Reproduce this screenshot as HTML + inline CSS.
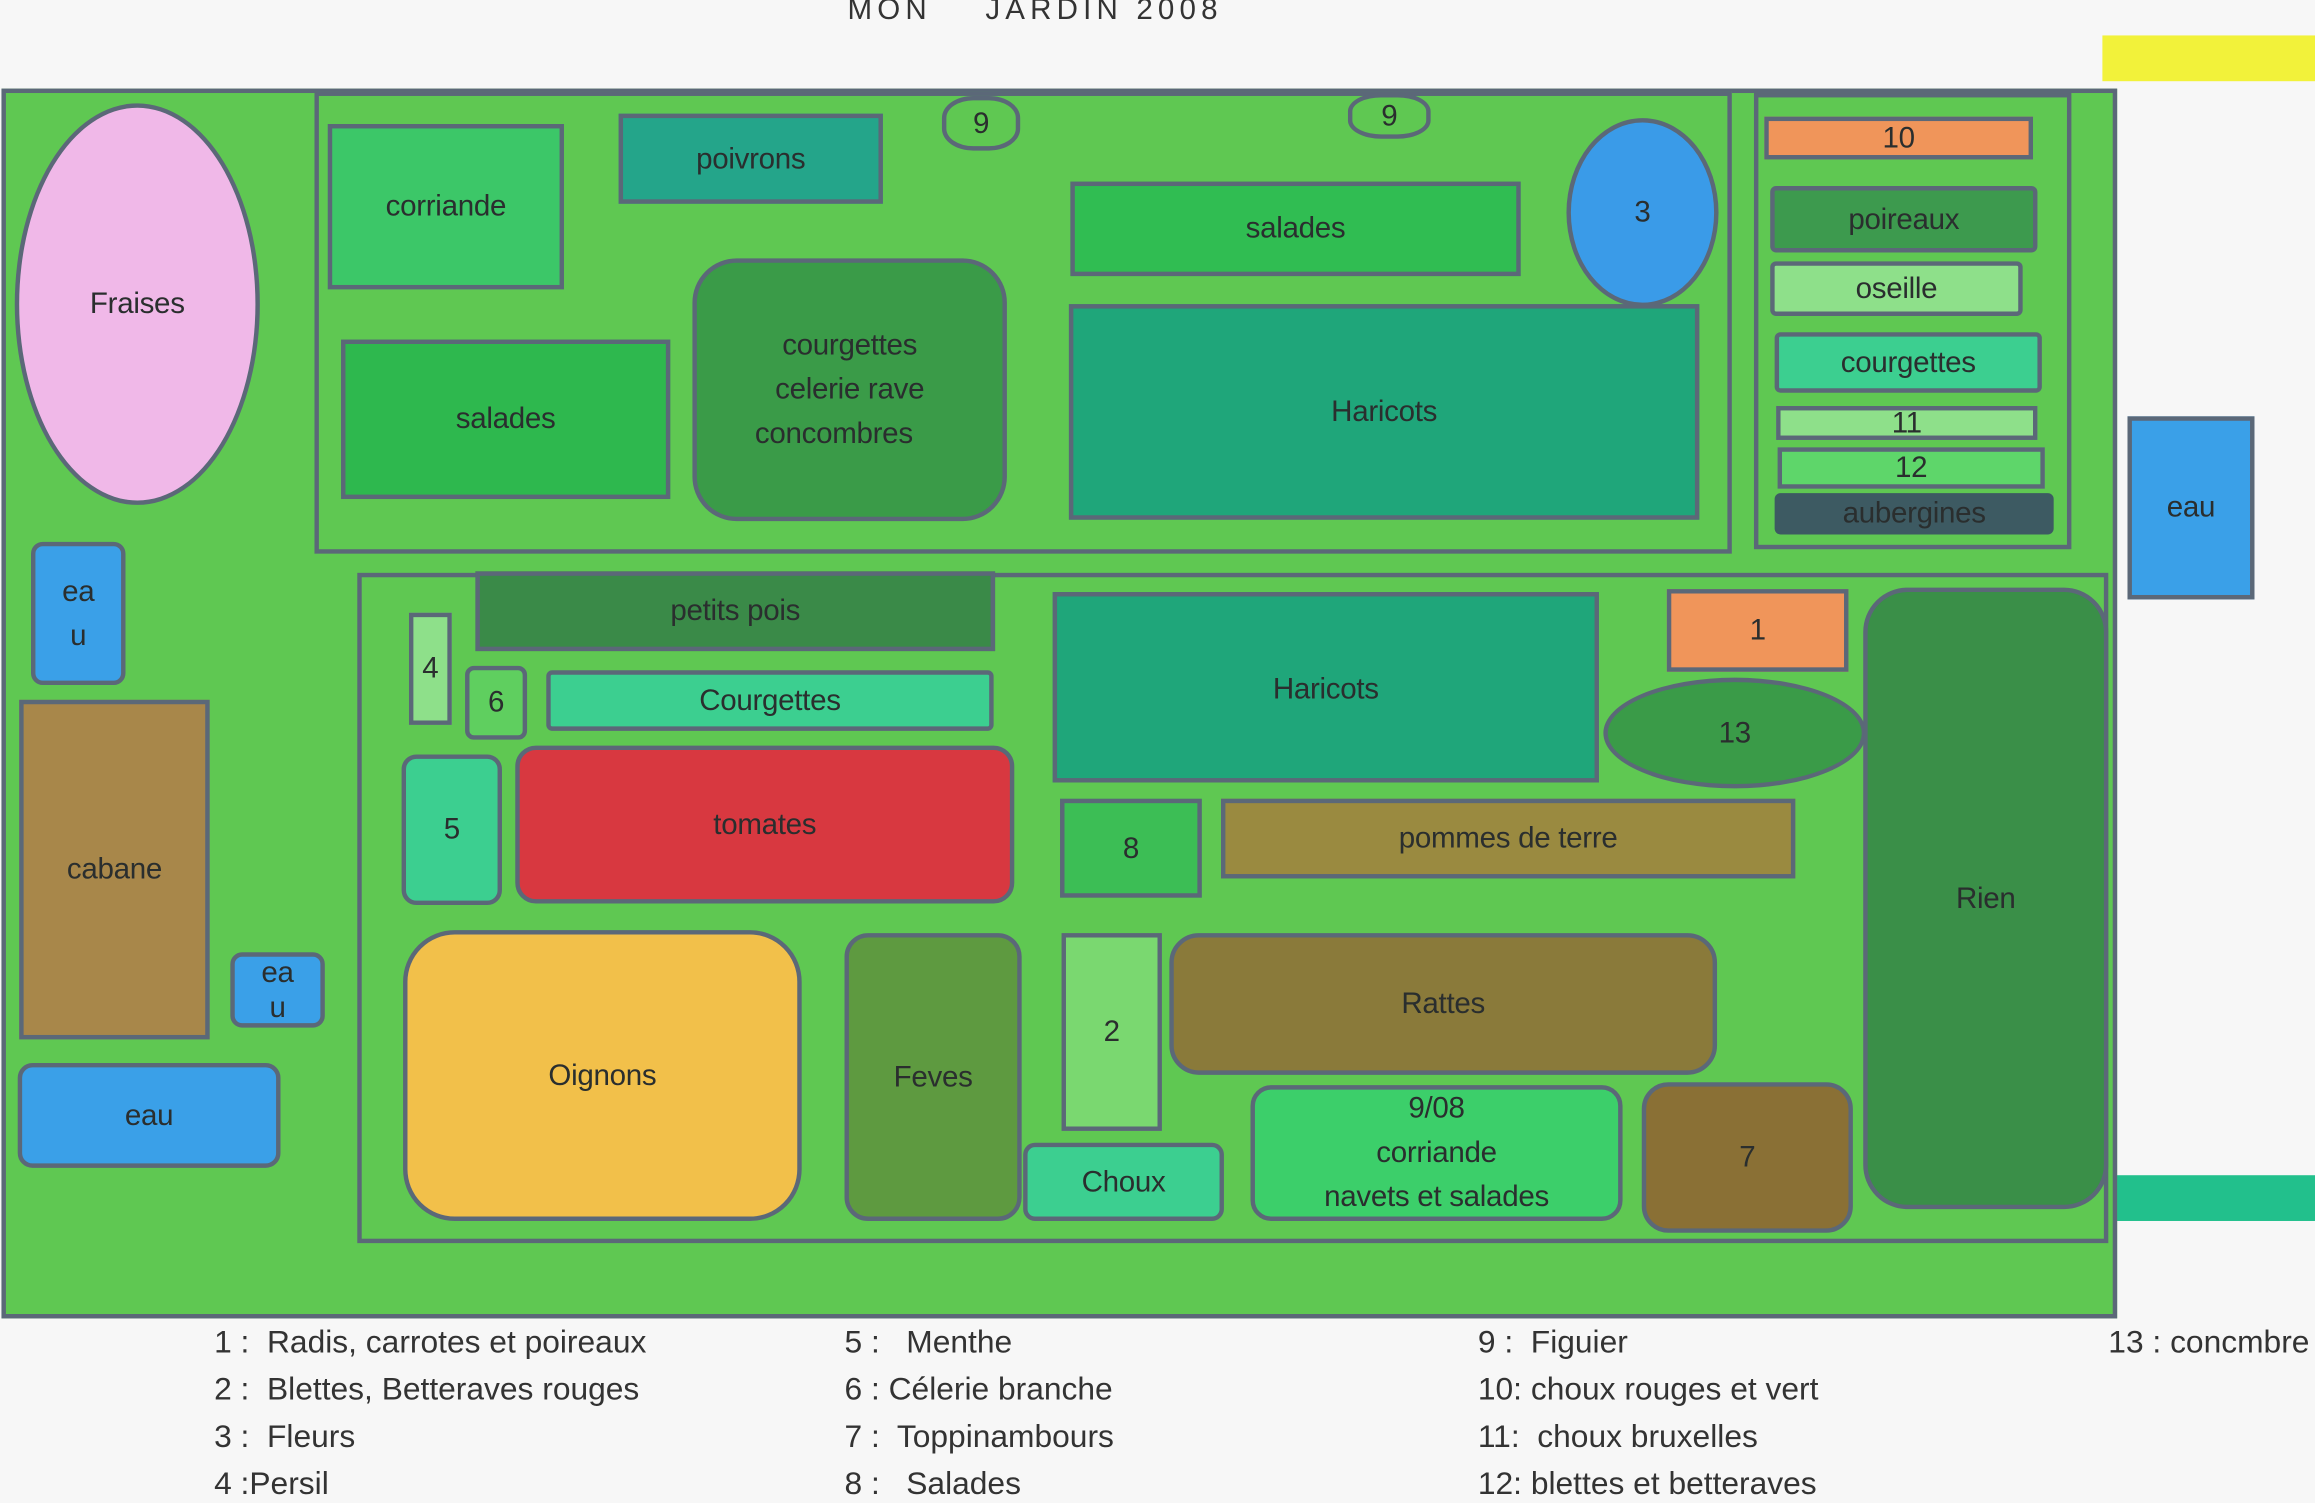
<!DOCTYPE html>
<html><head><meta charset="utf-8"><style>
html,body{margin:0;padding:0;background:#f7f7f7;width:2315px;height:1498px;overflow:hidden}
#w{position:absolute;left:0;top:0;width:1568px;height:1015px;transform:scale(1.4764);transform-origin:0 0;font-family:"Liberation Sans",sans-serif;color:#2a2e2e}
.b{position:absolute;box-sizing:border-box;border:3px solid #5b6878;display:flex;align-items:center;justify-content:center;text-align:center;font-size:20px;line-height:30px;letter-spacing:-0.2px}
.l{position:absolute;font-size:21.5px;letter-spacing:0px;white-space:pre;color:#333}
</style></head><body><div id="w">
<div class="l" style="left:574px;top:-4px;letter-spacing:3.5px;font-size:20px">MON    JARDIN 2008</div>
<div style="position:absolute;left:1424px;top:24px;width:144px;height:31px;background:#f2f23a"></div>
<div style="position:absolute;left:1433px;top:796px;width:135px;height:31px;background:#22c08c"></div>
<div class="b" style="left:1px;top:60px;width:1433px;height:833px;background:#5fc852"></div>
<div class="b" style="left:213px;top:62px;width:960px;height:313px;background:#5fc852"></div>
<div class="b" style="left:1188px;top:63px;width:215px;height:309px;background:#5fc852"></div>
<div class="b" style="left:242px;top:388px;width:1186px;height:454px;background:#5fc852"></div>

<div class="b" style="left:10px;top:70px;width:166px;height:272px;border-radius:50%;background:#f0b8e8">Fraises</div>
<div class="b" style="left:21px;top:367px;width:64px;height:97px;border-radius:8px;background:#3aa0e8;line-height:30px">ea<br>u</div>
<div class="b" style="left:13px;top:474px;width:129px;height:230px;background:#a8874a">cabane</div>
<div class="b" style="left:156px;top:645px;width:64px;height:51px;border-radius:8px;background:#3aa0e8;line-height:24px">ea<br>u</div>
<div class="b" style="left:12px;top:720px;width:178px;height:71px;border-radius:10px;background:#3aa0e8">eau</div>

<div class="b" style="left:222px;top:84px;width:160px;height:112px;background:#3cc768">corriande</div>
<div class="b" style="left:419px;top:77px;width:179px;height:61px;background:#24a58a">poivrons</div>
<div class="b" style="left:638px;top:65px;width:53px;height:37px;border-radius:40%;background:#5fc852">9</div>
<div class="b" style="left:913px;top:63px;width:56px;height:31px;border-radius:40%;background:#5fc852">9</div>
<div class="b" style="left:231px;top:230px;width:223px;height:108px;background:#2eb84e">salades</div>
<div class="b" style="left:469px;top:175px;width:213px;height:178px;border-radius:30px;background:#3a9b48">courgettes<br>celerie rave<br>concombres&nbsp;&nbsp;&nbsp;&nbsp;</div>
<div class="b" style="left:725px;top:123px;width:305px;height:64px;background:#30bd52">salades</div>
<div class="b" style="left:724px;top:206px;width:427px;height:146px;background:#1fa67a">Haricots</div>
<div class="b" style="left:1061px;top:80px;width:103px;height:128px;border-radius:50%;background:#3a9be8">3</div>
<div class="b" style="left:1195px;top:79px;width:182px;height:29px;background:#f0955a">10</div>
<div class="b" style="left:1199px;top:126px;width:181px;height:45px;border-radius:4px;background:#3d9a4e">poireaux</div>
<div class="b" style="left:1199px;top:177px;width:171px;height:37px;border-radius:4px;background:#8ee08a">oseille</div>
<div class="b" style="left:1202px;top:225px;width:181px;height:41px;border-radius:4px;background:#3ccf90">courgettes</div>
<div class="b" style="left:1203px;top:275px;width:177px;height:23px;background:#8ee08a">11</div>
<div class="b" style="left:1204px;top:303px;width:181px;height:28px;background:#5ed66a">12</div>
<div class="b" style="left:1202px;top:334px;width:189px;height:28px;border:none;border-radius:4px;background:#3d5a62">aubergines</div>
<div class="b" style="left:1441px;top:282px;width:86px;height:124px;background:#3aa0e8">eau</div>

<div class="b" style="left:322px;top:387px;width:352px;height:54px;background:#3a8a48">petits pois</div>
<div class="b" style="left:277px;top:415px;width:29px;height:76px;background:#8ee08a">4</div>
<div class="b" style="left:315px;top:451px;width:42px;height:50px;border-radius:6px;background:#5fcf5f">6</div>
<div class="b" style="left:370px;top:454px;width:303px;height:41px;border-radius:4px;background:#3ccf90">Courgettes</div>
<div class="b" style="left:272px;top:511px;width:68px;height:102px;border-radius:10px;background:#3ccf90">5</div>
<div class="b" style="left:349px;top:505px;width:338px;height:107px;border-radius:14px;background:#d83840">tomates</div>
<div class="b" style="left:273px;top:630px;width:270px;height:197px;border-radius:35px;background:#f2c04a">Oignons</div>
<div class="b" style="left:572px;top:632px;width:120px;height:195px;border-radius:16px;background:#5e9a40">Feves</div>
<div class="b" style="left:713px;top:401px;width:370px;height:129px;background:#1fa67a;align-items:flex-start;padding-top:48px">Haricots</div>
<div class="b" style="left:1129px;top:399px;width:123px;height:56px;background:#f0955a">1</div>
<div class="b" style="left:1086px;top:459px;width:178px;height:75px;border-radius:50%;background:#3a9b48">13</div>
<div class="b" style="left:1262px;top:398px;width:166px;height:421px;border-radius:30px;background:#3a8f48">Rien</div>
<div class="b" style="left:718px;top:541px;width:96px;height:67px;background:#3cbe55">8</div>
<div class="b" style="left:827px;top:541px;width:389px;height:54px;background:#9a8a40">pommes de terre</div>
<div class="b" style="left:719px;top:632px;width:68px;height:134px;background:#7ad870">2</div>
<div class="b" style="left:792px;top:632px;width:371px;height:96px;border-radius:20px;background:#8a7a3a">Rattes</div>
<div class="b" style="left:693px;top:774px;width:136px;height:53px;border-radius:8px;background:#3ccf90">Choux</div>
<div class="b" style="left:847px;top:735px;width:252px;height:92px;border-radius:14px;background:#3ccf6a">9/08<br>corriande<br>navets et salades</div>
<div class="b" style="left:1112px;top:733px;width:143px;height:102px;border-radius:18px;background:#8a7035">7</div>

<div class="l" style="left:145px;top:897px">1 :  Radis, carrotes et poireaux</div>
<div class="l" style="left:145px;top:929px">2 :  Blettes, Betteraves rouges</div>
<div class="l" style="left:145px;top:961px">3 :  Fleurs</div>
<div class="l" style="left:145px;top:993px">4 :Persil</div>
<div class="l" style="left:572px;top:897px">5 :   Menthe</div>
<div class="l" style="left:572px;top:929px">6 : Célerie branche</div>
<div class="l" style="left:572px;top:961px">7 :  Toppinambours</div>
<div class="l" style="left:572px;top:993px">8 :   Salades</div>
<div class="l" style="left:1001px;top:897px">9 :  Figuier</div>
<div class="l" style="left:1001px;top:929px">10: choux rouges et vert</div>
<div class="l" style="left:1001px;top:961px">11:  choux bruxelles</div>
<div class="l" style="left:1001px;top:993px">12: blettes et betteraves</div>
<div class="l" style="left:1428px;top:897px">13 : concmbre</div>
</div></body></html>
